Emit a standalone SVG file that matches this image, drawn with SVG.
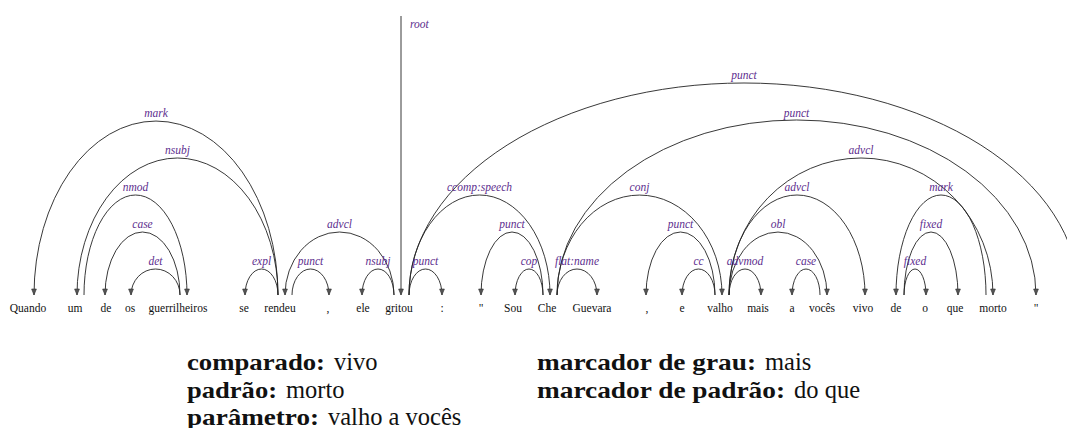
<svg xmlns="http://www.w3.org/2000/svg" width="1067" height="428" viewBox="0 0 1067 428">
<style>
.w{font-family:"Liberation Serif","Times New Roman",serif;font-size:11.5px;fill:#111;text-anchor:middle}
.l{font-family:"Liberation Serif","Times New Roman",serif;font-size:11.5px;font-style:italic;fill:#5d2e8e;text-anchor:middle}
.a{fill:none;stroke:#222;stroke-width:0.9}
.ah{marker-end:url(#arr)}
.k{font-family:"Liberation Serif","Times New Roman",serif;font-size:24px;font-weight:bold;fill:#111}
.v{font-family:"Liberation Serif","Times New Roman",serif;font-size:24.5px;fill:#111}
</style>
<defs>
<marker id="arr" markerUnits="userSpaceOnUse" markerWidth="10" markerHeight="10" viewBox="-8 -5 10 10" refX="0" refY="0" orient="auto">
<path d="M0,0 L-6,-2.4 L-6,2.4 Z" fill="#555" stroke="#333" stroke-width="0.6"/>
</marker>
</defs>
<rect width="1067" height="428" fill="#fff"/>
<g id="connectors">
<path class="a ah" d="M180,295 A24.5,26 0 0 0 131,295"/>
<path class="a ah" d="M180,295 A37.5,63 0 0 0 105,295"/>
<path class="a ah" d="M84,295 A51.5,100 0 0 1 187,295"/>
<path class="a ah" d="M278,295 A100.5,137 0 0 0 77,295"/>
<path class="a ah" d="M278,295 A122,174 0 0 0 34,295"/>
<path class="a ah" d="M278,295 A16.5,26 0 0 0 245,295"/>
<path class="a ah" d="M292,295 A18.5,26 0 0 1 329,295"/>
<path class="a ah" d="M394,295 A54.5,63 0 0 0 285,295"/>
<path class="a ah" d="M394,295 A16,26 0 0 0 362,295"/>
<path class="a ah" d="M401,16 L401,295"/>
<path class="a ah" d="M409,295 A16.5,26 0 0 1 442,295"/>
<path class="a ah" d="M409,295 A70.5,100 0 0 1 550,295"/>
<path class="a ah" d="M409,295 A335,212 0 0 1 1079,295"/>
<path class="a ah" d="M543,295 A31,63 0 0 0 481,295"/>
<path class="a ah" d="M543,295 A14,26 0 0 0 515,295"/>
<path class="a ah" d="M557,295 A20,26 0 0 1 597,295"/>
<path class="a ah" d="M557,295 A82.5,100 0 0 1 722,295"/>
<path class="a ah" d="M557,295 A239.5,175 0 0 1 1036,295"/>
<path class="a ah" d="M715,295 A34.5,63 0 0 0 646,295"/>
<path class="a ah" d="M715,295 A16.5,26 0 0 0 682,295"/>
<path class="a ah" d="M729,295 A16,26 0 0 1 761,295"/>
<path class="a ah" d="M729,295 A49,63 0 0 1 827,295"/>
<path class="a ah" d="M729,295 A68,100 0 0 1 865,295"/>
<path class="a ah" d="M729,295 A132,137 0 0 1 993,295"/>
<path class="a ah" d="M820,295 A14,26 0 0 0 792,295"/>
<path class="a ah" d="M986,295 A45,100 0 0 0 896,295"/>
<path class="a ah" d="M904,295 A27,63 0 0 1 958,295"/>
<path class="a ah" d="M904,295 A11,26 0 0 1 926,295"/>
<text class="l" x="155.5" y="265">det</text>
<text class="l" x="142.5" y="228">case</text>
<text class="l" x="135.5" y="191">nmod</text>
<text class="l" x="177.5" y="154">nsubj</text>
<text class="l" x="156" y="117">mark</text>
<text class="l" x="261.5" y="265">expl</text>
<text class="l" x="310.5" y="265">punct</text>
<text class="l" x="339.5" y="228">advcl</text>
<text class="l" x="378" y="265">nsubj</text>
<text class="l" x="410" y="28" style="text-anchor:start">root</text>
<text class="l" x="425.5" y="265">punct</text>
<text class="l" x="479.5" y="191">ccomp:speech</text>
<text class="l" x="744" y="79">punct</text>
<text class="l" x="512" y="228">punct</text>
<text class="l" x="529" y="265">cop</text>
<text class="l" x="577" y="265">flat:name</text>
<text class="l" x="639.5" y="191">conj</text>
<text class="l" x="796.5" y="117">punct</text>
<text class="l" x="680.5" y="228">punct</text>
<text class="l" x="698.5" y="265">cc</text>
<text class="l" x="745" y="265">advmod</text>
<text class="l" x="778" y="228">obl</text>
<text class="l" x="797" y="191">advcl</text>
<text class="l" x="861" y="154">advcl</text>
<text class="l" x="806" y="265">case</text>
<text class="l" x="941" y="191">mark</text>
<text class="l" x="931" y="228">fixed</text>
<text class="l" x="915" y="265">fixed</text>
</g>
<g id="w1"><text class="w" x="28" y="312">Quando</text></g>
<g id="w2"><text class="w" x="75" y="312">um</text></g>
<g id="w3"><text class="w" x="106" y="312">de</text></g>
<g id="w4"><text class="w" x="130" y="312">os</text></g>
<g id="w5"><text class="w" x="178" y="312">guerrilheiros</text></g>
<g id="w6"><text class="w" x="244" y="312">se</text></g>
<g id="w7"><text class="w" x="280" y="312">rendeu</text></g>
<g id="w8"><text class="w" x="328" y="312">,</text></g>
<g id="w9"><text class="w" x="363" y="312">ele</text></g>
<g id="w10"><text class="w" x="399" y="312">gritou</text></g>
<g id="w11"><text class="w" x="442" y="312">:</text></g>
<g id="w12"><text class="w" x="481" y="312">"</text></g>
<g id="w13"><text class="w" x="513" y="312">Sou</text></g>
<g id="w14"><text class="w" x="547" y="312">Che</text></g>
<g id="w15"><text class="w" x="592" y="312">Guevara</text></g>
<g id="w16"><text class="w" x="647" y="312">,</text></g>
<g id="w17"><text class="w" x="682" y="312">e</text></g>
<g id="w18"><text class="w" x="720" y="312">valho</text></g>
<g id="w19"><text class="w" x="758" y="312">mais</text></g>
<g id="w20"><text class="w" x="792" y="312">a</text></g>
<g id="w21"><text class="w" x="822" y="312">vocês</text></g>
<g id="w22"><text class="w" x="863" y="312">vivo</text></g>
<g id="w23"><text class="w" x="896" y="312">de</text></g>
<g id="w24"><text class="w" x="925" y="312">o</text></g>
<g id="w25"><text class="w" x="955" y="312">que</text></g>
<g id="w26"><text class="w" x="993" y="312">morto</text></g>
<g id="w27"><text class="w" x="1036" y="312">"</text></g>
<g id="legend">
<text class="k" x="187" y="370" textLength="138" lengthAdjust="spacingAndGlyphs">comparado:</text>
<text class="v" x="334" y="370">vivo</text>
<text class="k" x="187" y="397.5" textLength="90" lengthAdjust="spacingAndGlyphs">padrão:</text>
<text class="v" x="286" y="397.5">morto</text>
<text class="k" x="187" y="425" textLength="132" lengthAdjust="spacingAndGlyphs">parâmetro:</text>
<text class="v" x="328" y="425">valho a vocês</text>
<text class="k" x="537" y="370" textLength="219" lengthAdjust="spacingAndGlyphs">marcador de grau:</text>
<text class="v" x="765" y="370">mais</text>
<text class="k" x="537" y="397.5" textLength="248" lengthAdjust="spacingAndGlyphs">marcador de padrão:</text>
<text class="v" x="794" y="397.5">do que</text>
</g>
</svg>
